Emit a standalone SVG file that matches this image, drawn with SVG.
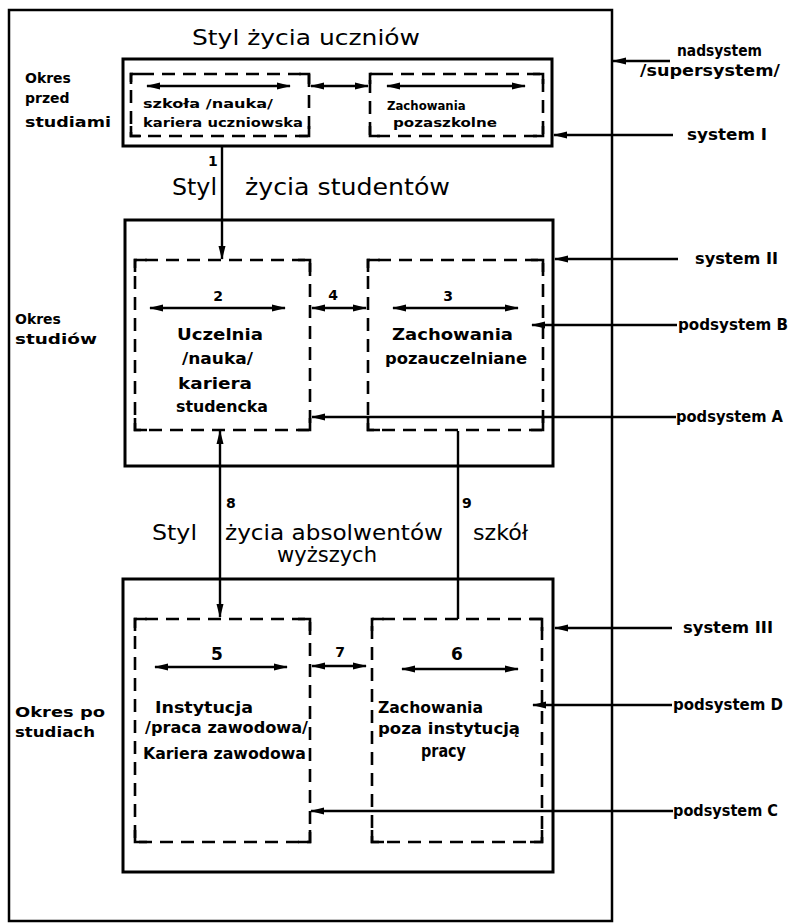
<svg xmlns="http://www.w3.org/2000/svg" width="791" height="924" viewBox="0 0 791 924">
<style>
.frame{fill:none;stroke:#000;stroke-width:3}
.outer{fill:none;stroke:#000;stroke-width:2.5}
.dash{fill:none;stroke:#000;stroke-width:2.6;stroke-dasharray:13 8;stroke-dashoffset:-10}
.corner{fill:none;stroke:#000;stroke-width:2.6}
.ln{fill:none;stroke:#000;stroke-width:2.4}
.title{font-family:"DejaVu Sans",sans-serif;font-size:21px;fill:#000}
.box{font-family:"DejaVu Sans",sans-serif;font-stretch:condensed;font-size:16px;font-weight:bold;fill:#000}
.sm{font-family:"DejaVu Sans",sans-serif;font-stretch:condensed;font-size:13px;font-weight:bold;fill:#000}
.num{font-family:"DejaVu Sans",sans-serif;font-size:14px;font-weight:bold;fill:#000}
.lab{font-family:"DejaVu Sans",sans-serif;font-stretch:condensed;font-size:15px;font-weight:bold;fill:#000}
.left{font-family:"DejaVu Sans",sans-serif;font-size:14px;font-weight:bold;fill:#000}
</style>
<defs>
<marker id="ah" viewBox="0 0 14 8" markerWidth="14" markerHeight="8" refX="13" refY="4" orient="auto-start-reverse" markerUnits="userSpaceOnUse">
<path d="M0,0.5 L14,4 L0,7.5 z" fill="#000"/>
</marker>
</defs>

<rect class="outer" x="9" y="10" width="603" height="911"/>

<g id="titles">
<text class="title" x="192" y="45" textLength="228" lengthAdjust="spacingAndGlyphs">Styl  życia  uczniów</text>
<text class="title" x="172" y="195" style="font-size:23px" textLength="45" lengthAdjust="spacingAndGlyphs">Styl</text>
<text class="title" x="245" y="195" style="font-size:23px" textLength="205" lengthAdjust="spacingAndGlyphs">życia  studentów</text>
<text class="title" x="152" y="540" textLength="45" lengthAdjust="spacingAndGlyphs">Styl</text>
<text class="title" x="225" y="540" textLength="218" lengthAdjust="spacingAndGlyphs">życia absolwentów</text>
<text class="title" x="473" y="540" textLength="55" lengthAdjust="spacingAndGlyphs">szkół</text>
<text class="title" x="277" y="562" textLength="100" lengthAdjust="spacingAndGlyphs">wyższych</text>
</g>

<g id="periods">
<text class="left" x="25" y="83">Okres</text>
<text class="left" x="25" y="103">przed</text>
<text class="left" x="25" y="127" textLength="86" lengthAdjust="spacingAndGlyphs">studiami</text>
<text class="left" x="15" y="324">Okres</text>
<text class="left" x="15" y="344" textLength="82" lengthAdjust="spacingAndGlyphs">studiów</text>
<text class="left" x="15" y="717" textLength="90" lengthAdjust="spacingAndGlyphs">Okres po</text>
<text class="left" x="15" y="737" textLength="80" lengthAdjust="spacingAndGlyphs">studiach</text>
</g>

<g id="system1">
<rect class="frame" x="123" y="59" width="429" height="87"/>
</g>
<g id="node-szkola">
<rect class="dash" x="131" y="74" width="178" height="62"/>
<path class="corner" d="M131,84 V74 H141 M299,74 H309 V84 M309,126 V136 H299 M141,136 H131 V126"/>
<text class="sm" x="143" y="108" textLength="130" lengthAdjust="spacingAndGlyphs">szkoła /nauka/</text>
<text class="sm" x="143" y="127" textLength="160" lengthAdjust="spacingAndGlyphs">kariera uczniowska</text>
</g>
<g id="node-pozaszkolne">
<rect class="dash" x="370" y="74" width="173" height="62"/>
<path class="corner" d="M370,84 V74 H380 M533,74 H543 V84 M543,126 V136 H533 M380,136 H370 V126"/>
<text class="sm" x="387" y="110">Zachowania</text>
<text class="sm" x="393" y="127" textLength="104" lengthAdjust="spacingAndGlyphs">pozaszkolne</text>
</g>

<g id="system2">
<rect class="frame" x="125" y="220" width="428" height="246"/>
</g>
<g id="node-2">
<rect class="dash" x="135" y="260" width="175" height="170"/>
<path class="corner" d="M135,272 V260 H147 M298,260 H310 V272 M310,418 V430 H298 M147,430 H135 V418"/>
<text class="num" x="218" y="301" text-anchor="middle">2</text>
<text class="box" x="177" y="340" textLength="86" lengthAdjust="spacingAndGlyphs">Uczelnia</text>
<text class="box" x="182" y="364" textLength="71" lengthAdjust="spacingAndGlyphs">/nauka/</text>
<text class="box" x="178" y="389" textLength="74" lengthAdjust="spacingAndGlyphs">kariera</text>
<text class="box" x="176" y="412" textLength="92" lengthAdjust="spacingAndGlyphs">studencka</text>
</g>
<g id="node-3">
<rect class="dash" x="368" y="260" width="175" height="170"/>
<path class="corner" d="M368,272 V260 H380 M531,260 H543 V272 M543,418 V430 H531 M380,430 H368 V418"/>
<text class="num" x="448" y="301" text-anchor="middle">3</text>
<text class="box" x="392" y="340" textLength="121" lengthAdjust="spacingAndGlyphs">Zachowania</text>
<text class="box" x="385" y="364" textLength="142" lengthAdjust="spacingAndGlyphs">pozauczelniane</text>
</g>

<g id="system3">
<rect class="frame" x="123" y="579" width="430" height="293"/>
</g>
<g id="node-5">
<rect class="dash" x="135" y="619" width="175" height="223"/>
<path class="corner" d="M135,631 V619 H147 M298,619 H310 V631 M310,830 V842 H298 M147,842 H135 V830"/>
<text class="num" x="217" y="660" text-anchor="middle" style="font-size:17px">5</text>
<text class="box" x="155" y="713" textLength="98" lengthAdjust="spacingAndGlyphs">Instytucja</text>
<text class="box" x="145" y="733" textLength="163" lengthAdjust="spacingAndGlyphs">/praca zawodowa/</text>
<text class="box" x="143" y="759" textLength="163" lengthAdjust="spacingAndGlyphs">Kariera zawodowa</text>
</g>
<g id="node-6">
<rect class="dash" x="372" y="619" width="170" height="223"/>
<path class="corner" d="M372,631 V619 H384 M530,619 H542 V631 M542,830 V842 H530 M384,842 H372 V830"/>
<text class="num" x="457" y="660" text-anchor="middle" style="font-size:17px">6</text>
<text class="box" x="378" y="713" textLength="105" lengthAdjust="spacingAndGlyphs">Zachowania</text>
<text class="box" x="378" y="734" textLength="142" lengthAdjust="spacingAndGlyphs">poza instytucją</text>
<text class="box" x="421" y="757" style="font-size:17px" textLength="45" lengthAdjust="spacingAndGlyphs">pracy</text>
</g>

<g id="labels">
<text class="lab" x="677" y="56" textLength="85" lengthAdjust="spacingAndGlyphs">nadsystem</text>
<text class="lab" x="640" y="76" textLength="140" lengthAdjust="spacingAndGlyphs">/supersystem/</text>
<text class="lab" x="687" y="140" textLength="80" lengthAdjust="spacingAndGlyphs">system I</text>
<text class="lab" x="695" y="264" textLength="83" lengthAdjust="spacingAndGlyphs">system II</text>
<text class="lab" x="678" y="330" textLength="110" lengthAdjust="spacingAndGlyphs">podsystem B</text>
<text class="lab" x="676" y="422" textLength="107" lengthAdjust="spacingAndGlyphs">podsystem A</text>
<text class="lab" x="683" y="633" textLength="90" lengthAdjust="spacingAndGlyphs">system III</text>
<text class="lab" x="673" y="710" textLength="110" lengthAdjust="spacingAndGlyphs">podsystem D</text>
<text class="lab" x="673" y="816" textLength="105" lengthAdjust="spacingAndGlyphs">podsystem C</text>
</g>

<g id="connectors">
<line class="ln" x1="147" y1="86" x2="290" y2="86" marker-start="url(#ah)" marker-end="url(#ah)"/>
<line class="ln" x1="387" y1="86" x2="525" y2="86" marker-start="url(#ah)" marker-end="url(#ah)"/>
<line class="ln" x1="311" y1="86" x2="368" y2="86" marker-start="url(#ah)" marker-end="url(#ah)"/>
<line class="ln" x1="222" y1="146" x2="222" y2="259" marker-end="url(#ah)"/>
<text class="num" x="208" y="166">1</text>
<line class="ln" x1="150" y1="308" x2="285" y2="308" marker-start="url(#ah)" marker-end="url(#ah)"/>
<line class="ln" x1="393" y1="308" x2="518" y2="308" marker-start="url(#ah)" marker-end="url(#ah)"/>
<line class="ln" x1="312" y1="308" x2="366" y2="308" marker-start="url(#ah)" marker-end="url(#ah)"/>
<text class="num" x="333" y="300" text-anchor="middle">4</text>
<line class="ln" x1="220" y1="431" x2="220" y2="617" marker-start="url(#ah)" marker-end="url(#ah)"/>
<text class="num" x="226" y="508">8</text>
<line class="ln" x1="458" y1="431" x2="458" y2="619"/>
<text class="num" x="462" y="508">9</text>
<line class="ln" x1="155" y1="667" x2="287" y2="667" marker-start="url(#ah)" marker-end="url(#ah)"/>
<line class="ln" x1="402" y1="669" x2="518" y2="669" marker-start="url(#ah)" marker-end="url(#ah)"/>
<line class="ln" x1="312" y1="666" x2="366" y2="666" marker-start="url(#ah)" marker-end="url(#ah)"/>
<text class="num" x="340" y="657" text-anchor="middle">7</text>
<line class="ln" x1="670" y1="61" x2="613" y2="61" marker-end="url(#ah)"/>
<line class="ln" x1="673" y1="135" x2="554" y2="135" marker-end="url(#ah)"/>
<line class="ln" x1="678" y1="259" x2="555" y2="259" marker-end="url(#ah)"/>
<line class="ln" x1="677" y1="325" x2="532" y2="325" marker-end="url(#ah)"/>
<line class="ln" x1="676" y1="417" x2="312" y2="417" marker-end="url(#ah)"/>
<line class="ln" x1="672" y1="628" x2="555" y2="628" marker-end="url(#ah)"/>
<line class="ln" x1="672" y1="705" x2="533" y2="705" marker-end="url(#ah)"/>
<line class="ln" x1="673" y1="811" x2="311" y2="811" marker-end="url(#ah)"/>
</g>
</svg>
